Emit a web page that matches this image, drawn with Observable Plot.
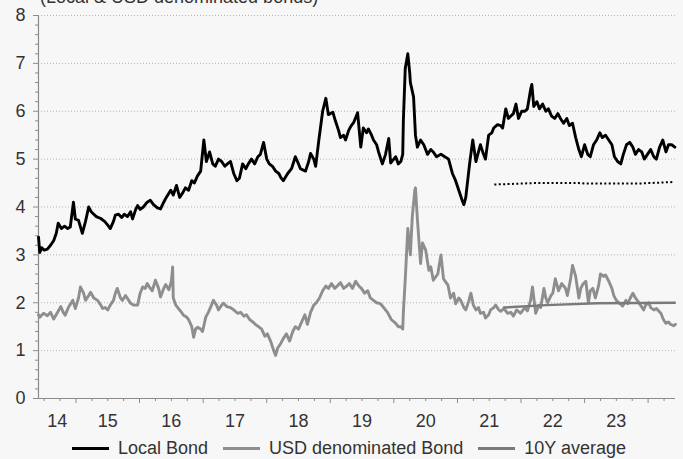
<!DOCTYPE html>
<html><head><meta charset="utf-8">
<script src="https://cdn.jsdelivr.net/npm/d3@7"></script>
<script src="https://cdn.jsdelivr.net/npm/@observablehq/plot@0.6"></script>
<style>
html,body{margin:0;padding:0;background:#f7f7f7;}
body{width:683px;height:459px;overflow:hidden;position:relative;font-family:"Liberation Sans",Arial,sans-serif;color:#333;}
#title{position:absolute;left:40px;top:-13px;font-size:18px;line-height:20px;white-space:nowrap;}
#chart{position:absolute;left:0;top:0;}
#legend{position:absolute;left:72px;top:438px;display:flex;align-items:center;font-size:18px;line-height:20px;white-space:nowrap;}
.item{display:flex;align-items:center;margin-right:15px;}
.sw{width:37px;height:3px;margin-right:9px;}
</style></head>
<body>
<div id="title">(Local &amp; USD denominated bonds)</div>
<div id="chart"></div>
<div id="legend"></div>
<script>
// decimal-year, value
const localBond = [[2014.41,3.37],[2014.43,3.05],[2014.46,3.15],[2014.50,3.1],[2014.55,3.12],[2014.60,3.2],[2014.65,3.3],[2014.69,3.45],[2014.72,3.66],[2014.77,3.55],[2014.82,3.6],[2014.87,3.55],[2014.91,3.58],[2014.96,4.1],[2014.99,3.75],[2015.04,3.72],[2015.10,3.45],[2015.15,3.7],[2015.20,4.0],[2015.24,3.9],[2015.28,3.85],[2015.32,3.8],[2015.39,3.76],[2015.45,3.7],[2015.50,3.62],[2015.54,3.55],[2015.59,3.7],[2015.62,3.83],[2015.67,3.85],[2015.72,3.78],[2015.76,3.85],[2015.81,3.8],[2015.86,3.9],[2015.89,3.75],[2015.94,3.95],[2015.97,4.03],[2016.01,3.95],[2016.06,4.0],[2016.12,4.1],[2016.17,4.14],[2016.22,4.05],[2016.28,3.98],[2016.33,3.96],[2016.38,4.1],[2016.42,4.2],[2016.49,4.35],[2016.53,4.25],[2016.58,4.45],[2016.63,4.2],[2016.68,4.3],[2016.72,4.4],[2016.77,4.35],[2016.82,4.55],[2016.86,4.5],[2016.91,4.65],[2016.96,4.75],[2017.01,5.4],[2017.05,4.95],[2017.10,5.15],[2017.15,4.9],[2017.19,4.85],[2017.24,5.0],[2017.29,4.95],[2017.34,4.85],[2017.38,4.9],[2017.43,4.95],[2017.48,4.7],[2017.53,4.55],[2017.57,4.6],[2017.62,4.9],[2017.67,4.8],[2017.71,4.9],[2017.76,5.0],[2017.81,4.9],[2017.86,5.05],[2017.90,5.1],[2017.95,5.35],[2018.00,5.0],[2018.04,4.9],[2018.09,4.85],[2018.14,4.75],[2018.19,4.7],[2018.22,4.62],[2018.26,4.55],[2018.33,4.7],[2018.39,4.8],[2018.45,5.05],[2018.50,4.9],[2018.53,4.8],[2018.61,4.75],[2018.66,4.95],[2018.69,5.12],[2018.74,5.0],[2018.77,4.85],[2018.82,5.4],[2018.88,6.0],[2018.93,6.27],[2018.97,5.93],[2019.04,5.98],[2019.08,5.8],[2019.13,5.6],[2019.16,5.45],[2019.21,5.5],[2019.24,5.4],[2019.29,5.6],[2019.33,5.7],[2019.37,5.77],[2019.43,5.97],[2019.48,5.25],[2019.52,5.65],[2019.57,5.55],[2019.60,5.63],[2019.65,5.5],[2019.68,5.4],[2019.73,5.3],[2019.76,5.15],[2019.82,4.9],[2019.87,5.1],[2019.92,5.43],[2019.95,4.92],[2020.00,5.0],[2020.03,5.05],[2020.07,4.9],[2020.11,4.95],[2020.14,5.1],[2020.15,5.8],[2020.18,6.9],[2020.22,7.2],[2020.25,6.8],[2020.26,6.6],[2020.31,6.3],[2020.34,5.5],[2020.37,5.25],[2020.42,5.4],[2020.47,5.3],[2020.53,5.1],[2020.58,5.2],[2020.62,5.15],[2020.67,5.05],[2020.74,5.1],[2020.80,5.05],[2020.86,5.0],[2020.89,4.85],[2020.92,4.7],[2020.97,4.55],[2021.02,4.35],[2021.07,4.15],[2021.10,4.05],[2021.13,4.2],[2021.16,4.55],[2021.19,4.9],[2021.24,5.4],[2021.29,4.95],[2021.33,5.15],[2021.36,5.3],[2021.41,5.1],[2021.44,5.0],[2021.49,5.5],[2021.54,5.55],[2021.57,5.65],[2021.63,5.72],[2021.68,5.7],[2021.71,5.65],[2021.76,6.05],[2021.80,5.85],[2021.84,5.9],[2021.88,5.95],[2021.92,6.15],[2021.96,5.85],[2022.01,6.0],[2022.06,6.0],[2022.10,6.05],[2022.15,6.45],[2022.17,6.56],[2022.20,6.1],[2022.25,6.2],[2022.29,6.05],[2022.34,6.15],[2022.39,6.0],[2022.43,6.05],[2022.48,5.9],[2022.53,5.85],[2022.58,5.95],[2022.62,5.85],[2022.67,5.75],[2022.72,5.85],[2022.76,5.7],[2022.81,5.75],[2022.86,5.45],[2022.91,5.2],[2022.95,5.05],[2023.00,5.3],[2023.05,5.1],[2023.09,5.05],[2023.14,5.3],[2023.19,5.4],[2023.24,5.55],[2023.28,5.45],[2023.33,5.5],[2023.38,5.4],[2023.43,5.3],[2023.47,5.05],[2023.52,4.95],[2023.57,4.9],[2023.61,5.1],[2023.66,5.3],[2023.71,5.35],[2023.76,5.25],[2023.80,5.1],[2023.85,5.2],[2023.90,5.15],[2023.94,5.0],[2023.99,5.1],[2024.04,5.2],[2024.09,5.05],[2024.13,5.0],[2024.18,5.25],[2024.23,5.4],[2024.28,5.15],[2024.32,5.3],[2024.37,5.3],[2024.42,5.25]];

const usdBond = [[2014.41,1.75],[2014.43,1.7],[2014.49,1.78],[2014.55,1.73],[2014.60,1.8],[2014.65,1.66],[2014.71,1.8],[2014.76,1.92],[2014.80,1.8],[2014.83,1.74],[2014.88,1.9],[2014.95,2.05],[2014.99,1.88],[2015.04,2.1],[2015.07,2.33],[2015.12,2.2],[2015.15,2.05],[2015.20,2.15],[2015.23,2.22],[2015.28,2.1],[2015.34,2.05],[2015.39,1.95],[2015.42,1.88],[2015.46,1.9],[2015.50,1.85],[2015.54,1.95],[2015.59,2.05],[2015.62,2.2],[2015.65,2.3],[2015.70,2.1],[2015.73,2.05],[2015.78,2.15],[2015.83,2.05],[2015.86,1.99],[2015.91,1.95],[2015.97,1.95],[2016.01,2.2],[2016.05,2.33],[2016.09,2.3],[2016.12,2.4],[2016.17,2.3],[2016.20,2.25],[2016.25,2.47],[2016.30,2.3],[2016.33,2.12],[2016.38,2.3],[2016.41,2.38],[2016.46,2.27],[2016.50,2.45],[2016.52,2.75],[2016.53,2.1],[2016.57,1.95],[2016.61,1.88],[2016.66,1.8],[2016.69,1.74],[2016.74,1.7],[2016.77,1.65],[2016.82,1.5],[2016.85,1.28],[2016.88,1.45],[2016.91,1.49],[2016.96,1.45],[2016.99,1.4],[2017.04,1.7],[2017.08,1.8],[2017.12,1.92],[2017.16,2.05],[2017.21,1.95],[2017.24,1.85],[2017.29,1.95],[2017.32,1.99],[2017.37,1.92],[2017.43,1.9],[2017.48,1.85],[2017.54,1.78],[2017.59,1.8],[2017.64,1.72],[2017.68,1.75],[2017.73,1.65],[2017.78,1.6],[2017.82,1.55],[2017.87,1.5],[2017.92,1.45],[2017.97,1.3],[2018.01,1.35],[2018.06,1.2],[2018.11,1.0],[2018.14,0.9],[2018.17,1.05],[2018.22,1.15],[2018.26,1.25],[2018.31,1.35],[2018.36,1.2],[2018.41,1.4],[2018.45,1.5],[2018.50,1.45],[2018.55,1.6],[2018.60,1.75],[2018.64,1.55],[2018.69,1.8],[2018.74,1.95],[2018.78,2.0],[2018.83,2.1],[2018.88,2.25],[2018.93,2.35],[2018.97,2.3],[2019.02,2.4],[2019.07,2.3],[2019.11,2.35],[2019.16,2.42],[2019.21,2.3],[2019.26,2.35],[2019.30,2.4],[2019.35,2.3],[2019.40,2.45],[2019.45,2.35],[2019.49,2.3],[2019.54,2.2],[2019.59,2.25],[2019.63,2.1],[2019.68,2.05],[2019.73,2.0],[2019.79,1.98],[2019.84,1.9],[2019.90,1.8],[2019.96,1.65],[2020.03,1.57],[2020.07,1.5],[2020.11,1.5],[2020.14,1.45],[2020.15,1.8],[2020.18,2.5],[2020.22,3.55],[2020.26,3.0],[2020.29,3.8],[2020.33,4.35],[2020.34,4.4],[2020.37,3.75],[2020.42,2.82],[2020.45,3.25],[2020.50,3.1],[2020.55,2.68],[2020.58,2.75],[2020.62,2.47],[2020.69,2.6],[2020.74,3.0],[2020.78,2.5],[2020.85,2.37],[2020.89,2.1],[2020.94,2.2],[2020.97,1.98],[2021.02,2.1],[2021.05,2.05],[2021.10,1.9],[2021.13,1.85],[2021.18,2.05],[2021.21,2.2],[2021.25,1.95],[2021.29,1.85],[2021.33,1.9],[2021.36,1.78],[2021.41,1.8],[2021.44,1.68],[2021.49,1.75],[2021.52,1.85],[2021.57,1.9],[2021.60,1.95],[2021.65,1.85],[2021.68,1.82],[2021.73,1.88],[2021.79,1.78],[2021.84,1.8],[2021.88,1.72],[2021.93,1.85],[2021.99,1.78],[2022.06,1.9],[2022.10,1.83],[2022.15,2.05],[2022.18,2.33],[2022.23,1.78],[2022.28,1.95],[2022.31,1.9],[2022.36,2.3],[2022.39,2.1],[2022.42,2.0],[2022.47,2.15],[2022.50,2.2],[2022.54,2.5],[2022.59,2.25],[2022.64,2.4],[2022.67,2.35],[2022.70,2.3],[2022.73,2.15],[2022.78,2.5],[2022.81,2.78],[2022.86,2.55],[2022.91,2.1],[2022.94,2.3],[2022.97,2.38],[2023.02,2.45],[2023.06,2.0],[2023.09,2.25],[2023.13,2.3],[2023.17,2.1],[2023.22,2.35],[2023.25,2.6],[2023.30,2.55],[2023.33,2.58],[2023.38,2.45],[2023.43,2.3],[2023.46,2.15],[2023.50,2.05],[2023.54,2.0],[2023.60,1.93],[2023.65,2.05],[2023.68,1.98],[2023.72,2.1],[2023.76,2.2],[2023.80,2.1],[2023.83,2.05],[2023.88,1.95],[2023.93,1.85],[2023.96,1.95],[2024.01,2.0],[2024.04,1.9],[2024.09,1.85],[2024.13,1.88],[2024.20,1.78],[2024.24,1.65],[2024.28,1.57],[2024.32,1.6],[2024.35,1.55],[2024.40,1.52],[2024.43,1.55]];

const localAvg = [[2021.58,4.47],[2021.80,4.48],[2022.20,4.50],[2022.90,4.50],[2023.00,4.49],[2023.85,4.49],[2024.00,4.50],[2024.38,4.52]];
const usdAvg = [[2021.73,1.90],[2022.40,1.95],[2023.20,1.99],[2024.42,2.00]];

const yearLabels = ["14","15","16","17","18","19","20","21","22","23"];
const yearLabelPos = [2014.705,2015.5,2016.5,2017.5,2018.5,2019.5,2020.5,2021.5,2022.5,2023.5];
const yTicks = [0,1,2,3,4,5,6,7,8];
const seriesNames = ["Local Bond","USD denominated Bond","10Y average"];
const seriesColors = ["#000000","#8e8e8e","#7a7a7a"];

const toDate = t => { const y = Math.floor(t); const s = Date.UTC(y,0,1), e = Date.UTC(y+1,0,1); return new Date(s + (t - y) * (e - s)); };
const xDomain = [toDate(2014.41), toDate(2024.43)];
const yearTicks = d3.range(2015, 2025).map(y => toDate(y));
const quarterTicks = d3.range(2014.5, 2024.5, 0.25).filter(t => t % 1 !== 0).map(toDate);
const yMinor = d3.range(0, 40).filter(i => i % 5 !== 0).map(i => i / 5);
const labelData = yearLabels.map((s, i) => ({x: toDate(yearLabelPos[i]), s}));
const P = d => ({t: toDate(d[0]), v: d[1]});
const axisColor = "#8c8c8c";

const chart = Plot.plot({
  width: 683, height: 432,
  marginLeft: 38, marginRight: 8, marginTop: 15, marginBottom: 34,
  style: {background: "transparent", fontFamily: "'Liberation Sans', Arial, sans-serif", fontSize: "18px", color: "#333"},
  x: {type: "utc", domain: xDomain},
  y: {domain: [0, 8]},
  marks: [
    Plot.gridY(yTicks.filter(d => d > 0), {stroke: "#b4b4b4", strokeOpacity: 1, strokeDasharray: "1,2"}),
    Plot.axisY(yTicks, {tickSize: 5, tickPadding: 8, stroke: axisColor, fill: "#333", label: null}),
    Plot.axisY(yMinor, {tickSize: 3, stroke: axisColor, tickFormat: () => "", label: null}),
    Plot.axisX(yearTicks, {tickSize: 5, stroke: axisColor, tickFormat: () => "", label: null}),
    Plot.axisX(quarterTicks, {tickSize: 3, stroke: axisColor, tickFormat: () => "", label: null}),
    Plot.ruleX([xDomain[0]], {stroke: axisColor, strokeWidth: 1.2}),
    Plot.ruleY([0], {stroke: axisColor, strokeWidth: 1.2}),
    Plot.text(labelData, {x: "x", y: () => 0, text: "s", dy: 23, fill: "#333", fontSize: 18}),
    Plot.line(usdBond.map(P), {x: "t", y: "v", stroke: seriesColors[1], strokeWidth: 2.9}),
    Plot.line(localBond.map(P), {x: "t", y: "v", stroke: seriesColors[0], strokeWidth: 2.9}),
    Plot.line(localAvg.map(P), {x: "t", y: "v", stroke: "#000", strokeWidth: 2, strokeDasharray: "2,2.4", strokeLinecap: "butt"}),
    Plot.line(usdAvg.map(P), {x: "t", y: "v", stroke: seriesColors[2], strokeWidth: 2.4})
  ]
});
document.getElementById("chart").appendChild(chart);

const legend = document.getElementById("legend");
seriesNames.forEach((n, i) => {
  const it = document.createElement("div"); it.className = "item";
  const sw = document.createElement("div"); sw.className = "sw"; sw.style.background = seriesColors[i];
  const tx = document.createElement("span"); tx.textContent = n;
  it.appendChild(sw); it.appendChild(tx); legend.appendChild(it);
});
</script>
</body></html>
